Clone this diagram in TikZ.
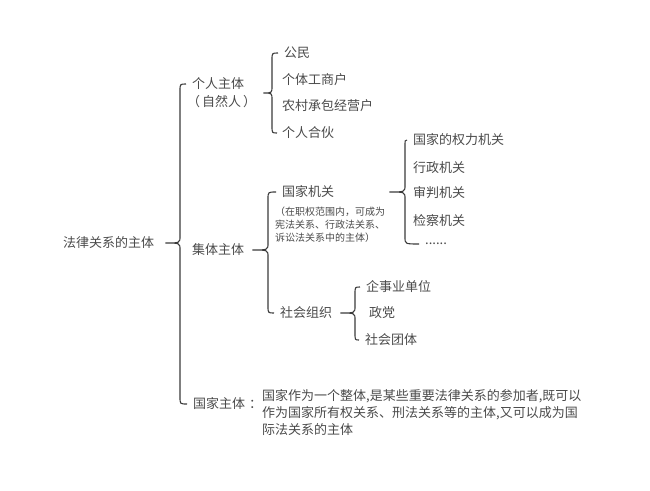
\documentclass[tikz,border=0pt]{standalone}
\usepackage{fontspec}
\newfontfamily\cjk{Noto Sans CJK SC}
\usetikzlibrary{calc}
\definecolor{txtgray}{HTML}{4A4A4A}
\definecolor{linegray}{HTML}{3A3A3A}

\tikzset{
  item/.style={anchor=west, inner sep=0pt, text=txtgray, font=\cjk\fontsize{13}{16}\selectfont},
  note/.style={anchor=north west, inner sep=0pt, text=txtgray, align=left, font=\cjk\fontsize{10}{12.7}\selectfont},
  para/.style={anchor=north west, inner sep=0pt, text=txtgray, align=left, font=\cjk\fontsize{13}{17}\selectfont},
  link/.style={draw=linegray, line width=1.1pt}
}

% #1 tip, #2 x of the upright, #3 top end, #4 bottom end
\newcommand\bracelink[4]{%
  \draw[link] let \p1=#1, \p2=#3, \p3=#4 in
    (\x2,\y2) .. controls (#2,\y2) .. (#2,\y2-7pt) -- (#2,\y1+7pt)
    .. controls (#2,\y1) .. (\x1,\y1)
    .. controls (#2,\y1) .. (#2,\y1-7pt) -- (#2,\y3+7pt)
    .. controls (#2,\y3) .. (\x3,\y3);}

\begin{document}
\begin{tikzpicture}[x=1pt, y=-1pt]
\useasboundingbox (0,0) rectangle (650,490);

% left root
\node[item] (root) at (63,243) {法律关系的主体};

% first level
\node[item] (gr)  at (192,84)  {个人主体};
\node[item] (grz) at (187,102) {（\kern2pt 自然人\kern2pt）};
\node[item] (jt)  at (192,250) {集体主体};
\node[item] (gj)  at (193,404) {国家主体\kern4pt ：};
\node[para] (gjtxt) at (262,389) {国家作为一个整体,是某些重要法律关系的参加者,既可以\\作为国家所有权关系、刑法关系等的主体,又可以成为国\\际法关系的主体};

% individuals
\node[item] (gm)  at (284,53)  {公民};
\node[item] (gt)  at (282,80)  {个体工商户};
\node[item] (nc)  at (282,106) {农村承包经营户};
\node[item] (hh)  at (282,133) {个人合伙};

% collectives
\node[item] (jg)  at (282,192) {国家机关};
\node[note] (jgn) at (275,207) {（在职权范围内，可成为\\宪法关系、行政法关系、\\诉讼法关系中的主体）};
\node[item] (zz)  at (280,313) {社会组织};

\node[item] (ql)  at (413,140) {国家的权力机关};
\node[item] (xz)  at (413,168) {行政机关};
\node[item] (sp)  at (413,193) {审判机关};
\node[item] (jc)  at (413,221) {检察机关};
\node[item] (dd)  at (425,244) {......};

\node[item] (qs)  at (366,287) {企事业单位};
\node[item] (zd)  at (369,313) {政党};
\node[item] (st)  at (365,340) {社会团体};

% braces
\bracelink{($(root.east)+(11,0)$)}{180pt}{([xshift=-6pt]gr.west)}{([xshift=-6pt]gj.west)}
\bracelink{($(gr.east)!.5!(grz.east)+(13,0)$)}{272pt}{([xshift=-6pt]gm.west)}{([xshift=-5pt]hh.west)}
\bracelink{($(jt.east)+(8,0)$)}{268pt}{([xshift=-6pt]jg.west)}{([xshift=-6pt]zz.west)}
\bracelink{($(jg.east)+(55,0)$)}{405pt}{([xshift=-6pt]ql.west)}{([xshift=-6pt]dd.west)}
\bracelink{($(zz.east)+(8,0)$)}{355pt}{([xshift=-6pt]qs.west)}{([xshift=-6pt]st.west)}

\end{tikzpicture}
\end{document}
